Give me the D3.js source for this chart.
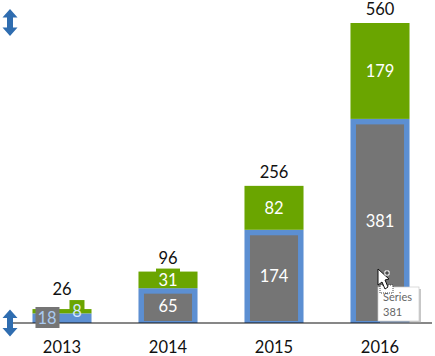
<!DOCTYPE html>
<html><head><meta charset="utf-8">
<script src="https://cdn.jsdelivr.net/npm/d3@7"></script>
<style>html,body{margin:0;padding:0;background:#fff}svg{display:block}text{font-family:Lato,sans-serif}</style>
</head><body><svg id="c" width="435" height="356"></svg>
<script>
const years = ["2013","2014","2015","2016"];
const seriesLower = [18,65,174,381];
const seriesUpper = [8,31,82,179];
const totals = [26,96,256,560];
const tooltipLines = ["Series","381"];

const W=435,H=356,base=323;
const svg=d3.select("#c");
const x=d3.scaleBand().domain(years).range([9,433]).paddingInner(.443).paddingOuter(.2215);
const y=d3.scaleLinear().domain([0,560]).range([base,23]);
const BLUE="#5c8fd2",GREEN="#6aa500",GREY="#757575";
const data=years.map((yr,i)=>({yr,lo:seriesLower[i],up:seriesUpper[i],t:totals[i]}));
const inset=5.5,FS=16.5;

svg.selectAll(".lo").data(data).join("rect").attr("x",d=>x(d.yr)).attr("width",x.bandwidth())
  .attr("y",d=>y(d.lo)).attr("height",d=>base-y(d.lo)).attr("fill",BLUE);
svg.selectAll(".up").data(data).join("rect").attr("x",d=>x(d.yr)).attr("width",x.bandwidth())
  .attr("y",d=>y(d.lo+d.up)).attr("height",d=>y(d.lo)-y(d.lo+d.up)).attr("fill",GREEN);

svg.append("line").attr("x1",13).attr("x2",432).attr("y1",base).attr("y2",base).attr("stroke","#111").attr("stroke-width",1.2);

const small=d=>d.lo<30;
svg.selectAll(".gbg").data(data).join("rect")
  .attr("x",d=>small(d)?x(d.yr)+3:x(d.yr)+inset)
  .attr("width",d=>small(d)?24:x.bandwidth()-2*inset)
  .attr("y",d=>small(d)?307:y(d.lo)+inset)
  .attr("height",d=>small(d)?21:base-y(d.lo)-inset-2)
  .attr("fill",GREY);
svg.selectAll(".ubg").data(data.filter(d=>d.up<40)).join("rect")
  .attr("x",d=>small(d)?x(d.yr)+37:x(d.yr)+x.bandwidth()/2-12)
  .attr("width",d=>small(d)?15:24)
  .attr("y",d=>y(d.lo+d.up)-3-(small(d)?6:0))
  .attr("height",d=>small(d)?12:8)
  .attr("fill",GREEN);

const lab=sel=>sel.attr("text-anchor","middle").attr("dominant-baseline","central").attr("font-size",FS);
lab(svg.selectAll(".ll").data(data).join("text"))
  .attr("x",d=>x(d.yr)+x.bandwidth()/2-(small(d)?15:0))
  .attr("y",d=>(y(d.lo)+base)/2)
  .attr("fill",d=>small(d)?"#a9c9f0":"#fff").text(d=>d.lo);
lab(svg.selectAll(".ul").data(data).join("text"))
  .attr("x",d=>x(d.yr)+x.bandwidth()/2+(small(d)?15:0))
  .attr("y",d=>(y(d.lo)+y(d.lo+d.up))/2)
  .attr("fill",d=>small(d)?"#d5e8ff":"#fff").text(d=>d.up);
lab(svg.selectAll(".tl").data(data).join("text"))
  .attr("x",d=>x(d.yr)+x.bandwidth()/2)
  .attr("y",d=>y(d.t)-(small(d)?20:14))
  .attr("fill","#111").text(d=>d.t);

const ax=svg.append("g").attr("transform",`translate(0,${base})`).call(d3.axisBottom(x).tickSize(0).tickPadding(18));
ax.select(".domain").remove();
ax.selectAll("text").attr("font-size",FS).attr("font-family","Lato,sans-serif").attr("fill","#111");

const arrow="M0,-13.5 L7.5,-5 L3,-5 L3,5 L7.5,5 L0,13.5 L-7.5,5 L-3,5 L-3,-5 L-7.5,-5 Z";
[[10,22.5],[10,323]].forEach(p=>svg.append("path").attr("d",arrow).attr("transform",`translate(${p[0]},${p[1]})`).attr("fill","#2f6db0"));

const tip=svg.append("g").attr("transform","translate(378,287)");
tip.append("rect").attr("x",2).attr("y",2).attr("width",41).attr("height",34).attr("fill","#999").attr("opacity",.55);
tip.append("rect").attr("width",41).attr("height",34).attr("fill","#fff").attr("stroke","#ccc").attr("stroke-width",.7);
tooltipLines.forEach((t,i)=>tip.append("text").attr("x",5).attr("y",14+i*15).attr("font-size",11).attr("fill","#666").text(t));

svg.append("rect").attr("x",380).attr("y",285).attr("width",13).attr("height",8).attr("fill","#fff").attr("stroke","#444").attr("stroke-dasharray","1 1");
svg.append("path").attr("d","M378,269 L378,285 L382,282 L385,289 L388,287 L385,280 L389,279 Z").attr("fill","#fff").attr("stroke","#111");
svg.append("path").attr("d","M384,273 h6 M387,270 v6").attr("stroke","#fff").attr("stroke-width",3);
svg.append("path").attr("d","M384.5,273 h5 M387,270.5 v5").attr("stroke","#111").attr("stroke-width",1);
</script></body></html>
